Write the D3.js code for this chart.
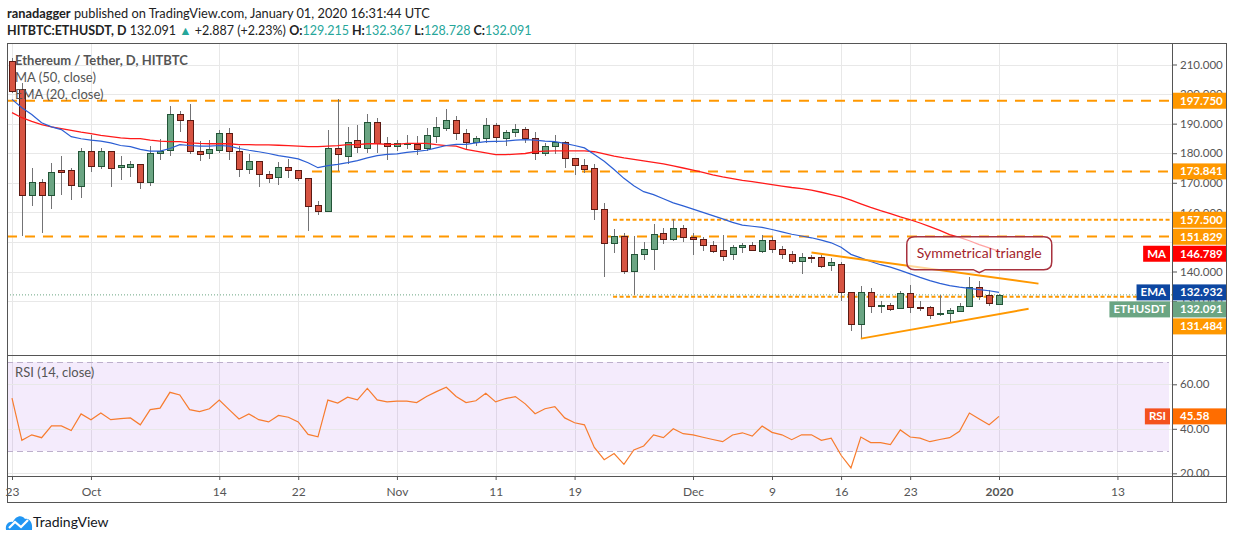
<!DOCTYPE html>
<html>
<head>
<meta charset="utf-8">
<script src="https://cdn.jsdelivr.net/npm/d3@7"></script>
<style>
  body { margin: 0; background: #fff; }
  svg { display: block; font-family: Lato, 'Noto Sans', sans-serif; }
</style>
</head>
<body>
<svg id="chart" width="1234" height="540"></svg>
<script>
// daily candles, 2019-09-23 .. 2020-01-01
const firstDay = '2019-09-23'
const opens = [211.1, 201.7, 166.0, 170.3, 166.0, 174.2, 174.2, 169.2, 180.9, 175.9,
  180.9, 175.1, 175.6, 176.4, 170.3, 180.1, 180.9, 193.1, 191.4, 180.9,
  179.8, 181.3, 186.9, 180.9, 174.7, 177.5, 173.1, 172.0, 175.4, 174.3,
  171.7, 162.4, 160.4, 181.8, 179.3, 184.3, 181.8, 190.6, 183.5, 182.4,
  183.2, 183.2, 181.7, 185.8, 188.6, 191.4, 186.9, 183.7, 184.9, 189.4,
  185.2, 187.2, 188.3, 185.2, 180.1, 182.4, 183.9, 178.5, 176.0, 175.1,
  161.2, 149.7, 151.9, 140.1, 146.0, 147.7, 153.1, 151.1, 154.8, 151.7,
  151.1, 149.1, 147.4, 146.0, 148.2, 148.8, 147.2, 150.8, 147.7, 146.0,
  143.5, 145.0, 145.0, 142.1, 142.6, 133.1, 122.3, 133.1, 128.5, 128.6,
  127.4, 132.8, 128.1, 128.1, 125.5, 126.0, 126.8, 128.5, 134.8, 131.9,
  129.215]
const highs = [212.3, 203.8, 175.1, 171.4, 176.8, 179.2, 175.1, 181.8, 186.3, 181.8,
  180.9, 179.2, 177.3, 176.4, 182.6, 184.9, 195.9, 194.4, 196.8, 184.2,
  184.6, 187.8, 188.4, 182.4, 179.8, 177.5, 173.9, 177.1, 178.1, 174.3,
  171.7, 164.0, 188.0, 198.2, 188.9, 189.7, 193.1, 192.0, 185.6, 184.6,
  186.0, 185.8, 188.6, 192.3, 194.8, 192.5, 188.3, 185.9, 192.0, 190.3,
  187.8, 190.0, 188.9, 187.1, 183.5, 186.3, 184.1, 178.5, 177.9, 176.2,
  163.0, 154.4, 152.9, 151.9, 150.0, 155.9, 154.8, 157.9, 155.6, 152.9,
  151.7, 150.2, 152.2, 149.1, 149.5, 149.9, 152.2, 151.7, 148.6, 146.9,
  146.1, 145.7, 145.7, 144.6, 143.1, 133.1, 135.0, 134.3, 130.0, 129.2,
  133.3, 135.6, 130.0, 128.4, 132.2, 127.7, 129.4, 138.2, 136.7, 133.9,
  132.367]
const lows = [200.4, 152.0, 162.1, 153.1, 161.2, 166.0, 164.3, 164.9, 173.6, 174.5,
  168.6, 170.9, 172.0, 168.0, 168.8, 177.6, 179.2, 187.1, 179.6, 177.3,
  178.0, 180.1, 177.6, 171.9, 173.1, 168.6, 170.0, 169.1, 171.7, 170.5,
  153.6, 159.0, 160.2, 173.9, 176.2, 180.1, 180.1, 180.1, 177.6, 180.7,
  181.5, 179.3, 180.7, 183.5, 187.5, 184.6, 181.3, 182.3, 183.5, 183.5,
  182.4, 185.6, 183.3, 177.6, 179.2, 179.9, 175.1, 172.8, 173.4, 157.3,
  138.2, 146.3, 139.0, 132.2, 143.8, 140.4, 149.4, 150.2, 149.9, 145.7,
  146.9, 146.1, 143.5, 143.8, 146.3, 146.9, 146.1, 146.4, 144.1, 142.4,
  139.3, 142.9, 141.2, 140.1, 130.0, 119.8, 117.6, 126.0, 126.0, 126.6,
  127.2, 125.8, 126.6, 123.8, 125.1, 122.9, 126.2, 128.1, 130.3, 128.3,
  128.728]
const closes = [201.0, 166.0, 170.3, 166.0, 173.7, 173.6, 169.2, 180.9, 175.9, 180.9,
  175.1, 175.9, 176.5, 170.3, 180.1, 180.9, 193.1, 191.2, 180.9, 179.8,
  181.3, 186.9, 180.9, 174.7, 177.5, 173.0, 171.9, 175.4, 174.3, 171.7,
  162.4, 160.4, 181.8, 179.8, 183.9, 181.8, 190.6, 183.5, 182.4, 183.3,
  183.3, 181.5, 186.0, 188.9, 191.4, 186.9, 183.7, 185.2, 189.4, 185.2,
  187.2, 188.3, 185.2, 180.1, 182.4, 183.9, 178.5, 176.0, 174.5, 161.2,
  149.7, 151.9, 140.1, 146.0, 147.7, 152.7, 151.1, 154.8, 151.7, 151.1,
  149.1, 147.2, 145.5, 148.4, 148.8, 147.2, 150.8, 147.7, 146.0, 143.5,
  145.0, 144.8, 142.1, 143.1, 133.3, 122.3, 133.1, 128.5, 128.6, 127.4,
  132.6, 128.1, 128.0, 125.5, 126.0, 126.9, 128.5, 134.8, 131.9, 129.204,
  132.091]

const ma50 = [193.7, 192.0, 190.8, 189.7, 188.9, 188.3, 187.7, 187.1, 186.6, 186.0,
  185.6, 185.2, 184.9, 184.9, 184.4, 184.1, 183.9, 183.9, 183.5, 183.3,
  183.2, 183.2, 183.2, 182.9, 182.9, 182.8, 182.8, 182.7, 182.6, 182.4,
  182.2, 182.2, 182.4, 182.6, 182.9, 182.9, 183.2, 183.2, 183.0, 183.0,
  183.3, 183.3, 183.3, 182.9, 182.6, 182.4, 181.3, 180.7, 180.1, 179.5,
  179.5, 179.7, 179.9, 180.5, 180.7, 180.8, 180.8, 180.8, 180.8, 180.5,
  179.8, 179.0, 178.4, 177.9, 177.4, 176.9, 176.4, 175.7, 175.0, 174.3,
  173.5, 172.7, 172.0, 171.4, 170.8, 170.4, 169.9, 169.4, 168.9, 168.4,
  168.0, 167.5, 166.8, 166.0, 165.2, 164.1, 162.9, 161.7, 160.6, 159.6,
  158.5, 157.5, 156.4, 155.2, 153.9, 152.5, 151.5, 150.4, 149.1, 148.0,
  146.789]
const ema20 = [198.2, 195.4, 193.1, 190.3, 188.9, 188.0, 185.6, 184.9, 184.4, 184.1,
  183.5, 182.6, 182.2, 181.3, 180.7, 180.7, 181.6, 182.9, 182.6, 182.4,
  182.4, 182.6, 182.4, 181.6, 181.0, 180.5, 179.9, 179.2, 178.7, 178.1,
  176.8, 175.1, 175.8, 176.2, 176.8, 177.5, 178.4, 179.2, 179.6, 179.8,
  180.3, 180.6, 181.0, 181.8, 182.6, 183.0, 183.0, 183.5, 183.9, 184.0,
  184.1, 184.4, 184.6, 184.4, 184.1, 183.9, 183.3, 182.6, 181.8, 179.6,
  177.3, 174.5, 171.5, 169.0, 167.0, 166.0, 164.6, 163.2, 162.2, 161.1,
  160.0, 158.9, 157.8, 156.6, 155.7, 155.3, 154.9, 154.2, 153.4, 152.6,
  152.0, 151.4, 150.6, 149.7, 148.2, 145.8, 144.6, 143.4, 142.3, 141.5,
  140.4, 139.2, 138.0, 136.9, 136.0, 135.2, 134.7, 134.3, 133.9, 133.5,
  132.932]
const rsi14 = [53.8, 34.8, 37.3, 36.0, 41.3, 41.3, 39.2, 46.7, 44.1, 47.1,
  44.1, 44.6, 44.9, 41.8, 48.6, 49.3, 56.4, 55.2, 48.6, 47.7,
  49.0, 52.9, 48.6, 44.4, 46.7, 44.1, 43.1, 46.0, 45.2, 43.1,
  37.5, 36.4, 52.9, 51.6, 54.2, 53.0, 58.2, 53.0, 52.1, 52.4,
  52.4, 51.8, 54.5, 56.7, 58.7, 54.5, 51.8, 52.6, 56.0, 52.1,
  53.6, 54.5, 51.2, 46.8, 49.0, 50.0, 44.9, 42.7, 41.8, 31.6,
  26.1, 28.9, 24.0, 30.5, 32.3, 37.3, 36.0, 40.0, 37.8, 37.3,
  36.2, 35.2, 34.2, 37.2, 38.2, 36.7, 41.2, 38.4, 37.3, 35.1,
  37.3, 37.3, 34.8, 35.8, 28.1, 22.4, 36.3, 33.8, 33.8, 32.9,
  39.5, 36.3, 35.8, 34.2, 35.2, 36.0, 38.9, 47.1, 44.4, 41.8,
  45.58]

// drawn levels and the triangle
const dashedLevels = [197.75, 173.841, 151.829]
const dashedStarts = ['2019-09-23', '2019-10-24', '2019-09-23']
const dottedLevels = [157.5, 131.484]
const dottedStart = '2019-11-23'
const triangleUpper = [['2019-12-13', 146.4], ['2020-01-05', 135.9]]
const triangleLower = [['2019-12-18', 117.3], ['2020-01-04', 127.4]]
const calloutText = 'Symmetrical triangle'
const calloutAnchor = ['2019-12-30', 139.6]

// axes
const timeTicks = ['2019-09-23', '2019-10-01', '2019-10-14', '2019-10-22', '2019-11-01', '2019-11-11',
  '2019-11-19', '2019-12-01', '2019-12-09', '2019-12-16', '2019-12-23', '2020-01-01', '2020-01-13']
const timeTickLabels = ['23', 'Oct', '14', '22', 'Nov', '11', '19', 'Dec', '9', '16', '23', '2020', '13']
const priceTicks = [130, 140, 150, 160, 170, 180, 190, 200, 210]
const rsiTicks = [20, 40, 60]

const parseDay = d3.utcParse('%Y-%m-%d')
const start = parseDay(firstDay)
const days = d3.range(closes.length).map(i => d3.utcDay.offset(start, i))

const L = 7
const R = 1227
const AX = 1172
const TOP = 43
const SPLIT = 355
const TAXIS = 476
const BOTTOM = 503

const GREEN = '#6ba583'
const RED = '#d75442'
const ORANGE = '#ff9800'
const GRID = '#e8e8e8'
const TEXT = '#555'

const x = d3.scaleUtc()
  .domain([start, parseDay('2020-01-01')])
  .range([12, 999])
const y = d3.scaleLinear().domain([140, 210]).range([271.5, 64.5])
const yr = d3.scaleLinear().domain([20, 60]).range([473.3, 384.3])

const svg = d3.select('#chart')
const defs = svg.append('defs')
defs.append('clipPath').attr('id', 'pricePane')
  .append('rect').attr('x', L).attr('y', TOP).attr('width', AX - L).attr('height', SPLIT - TOP)
defs.append('clipPath').attr('id', 'rsiPane')
  .append('rect').attr('x', L).attr('y', SPLIT).attr('width', R - L).attr('height', TAXIS - SPLIT)

// header
const header = svg.append('g').attr('fill', '#222')
const line1 = header.append('text').attr('x', 7).attr('y', 18).style('font-size', '12.8px')
line1.append('tspan').attr('font-weight', 700).text('ranadagger')
line1.append('tspan').text(' published on TradingView.com, January 01, 2020 16:31:44 UTC')

const last = closes.length - 1
const change = closes[last] - closes[last - 1]
const f3 = d3.format('.3f')
const teal = '#26a69a'
const line2 = header.append('text').attr('x', 7).attr('y', 35).style('font-size', '12.5px')
line2.append('tspan').attr('font-weight', 700).text('HITBTC:ETHUSDT, D')
line2.append('tspan').text(` ${f3(closes[last])} `)
line2.append('tspan').attr('fill', teal).text('▲')
line2.append('tspan').text(` +${f3(change)} (+${d3.format('.2f')(change / closes[last - 1] * 100)}%) `)
;[['O:', opens[last]], ['H:', highs[last]], ['L:', lows[last]], ['C:', closes[last]]].forEach(([k, v], i) => {
  line2.append('tspan').attr('font-weight', 700).text(`${i ? ' ' : ''}${k}`)
  line2.append('tspan').attr('fill', teal).text(f3(v))
})

// grid
const grid = svg.append('g').attr('stroke', GRID).attr('shape-rendering', 'crispEdges')
grid.selectAll('line.v')
  .data(timeTicks.map(parseDay))
  .join('line')
  .attr('x1', d => Math.round(x(d)) + 0.5).attr('x2', d => Math.round(x(d)) + 0.5)
  .attr('y1', TOP).attr('y2', TAXIS)
grid.selectAll('line.p')
  .data(priceTicks)
  .join('line')
  .attr('x1', L).attr('x2', AX)
  .attr('y1', d => Math.round(y(d)) + 0.5).attr('y2', d => Math.round(y(d)) + 0.5)

// RSI pane background
const rsiG = svg.append('g').attr('clip-path', 'url(#rsiPane)')
rsiG.append('rect')
  .attr('x', L).attr('width', AX - 3 - L)
  .attr('y', yr(70)).attr('height', yr(30) - yr(70))
  .attr('fill', 'rgba(150, 60, 230, 0.1)')
rsiG.selectAll('line.g')
  .data(rsiTicks)
  .join('line')
  .attr('x1', L).attr('x2', AX)
  .attr('y1', d => Math.round(yr(d)) + 0.5).attr('y2', d => Math.round(yr(d)) + 0.5)
  .attr('stroke', GRID)
rsiG.selectAll('line.b')
  .data([70, 30])
  .join('line')
  .attr('x1', L).attr('x2', AX - 3)
  .attr('y1', d => Math.round(yr(d)) + 0.5).attr('y2', d => Math.round(yr(d)) + 0.5)
  .attr('stroke', '#bdb0cc').attr('stroke-dasharray', '6,4')
rsiG.append('path')
  .datum(rsi14)
  .attr('fill', 'none')
  .attr('stroke', '#f77c2e')
  .attr('stroke-width', 1.2)
  .attr('d', d3.line().x((d, i) => x(days[i])).y(d => yr(d)))
svg.append('text').attr('x', 15).attr('y', 377)
  .attr('fill', TEXT).style('font-size', '13px')
  .text('RSI (14, close)')

// price pane
const pane = svg.append('g').attr('clip-path', 'url(#pricePane)')

pane.selectAll('line.dashed')
  .data(dashedLevels)
  .join('line')
  .attr('x1', (d, i) => Math.max(L, x(parseDay(dashedStarts[i])) - 6)).attr('x2', AX)
  .attr('y1', d => y(d)).attr('y2', d => y(d))
  .attr('stroke', ORANGE).attr('stroke-width', 2).attr('stroke-dasharray', '10,8')
pane.selectAll('line.dotted')
  .data(dottedLevels)
  .join('line')
  .attr('x1', x(parseDay(dottedStart)) - 1).attr('x2', AX)
  .attr('y1', d => y(d)).attr('y2', d => y(d))
  .attr('stroke', ORANGE).attr('stroke-width', 2).attr('stroke-dasharray', '4,2.5')
pane.append('line')
  .attr('x1', L).attr('x2', AX)
  .attr('y1', y(closes[last])).attr('y2', y(closes[last]))
  .attr('stroke', GREEN).attr('stroke-dasharray', '1,2')

const candles = days.map((d, i) => ({ d, o: opens[i], h: highs[i], l: lows[i], c: closes[i] }))
const cg = pane.selectAll('g.candle')
  .data(candles)
  .join('g')
  .attr('shape-rendering', 'crispEdges')
cg.append('line')
  .attr('x1', d => Math.round(x(d.d)) + 0.5).attr('x2', d => Math.round(x(d.d)) + 0.5)
  .attr('y1', d => y(d.h)).attr('y2', d => y(d.l))
  .attr('stroke', '#737375')
cg.append('rect')
  .attr('x', d => Math.round(x(d.d)) - 2.5)
  .attr('width', 6)
  .attr('y', d => Math.round(y(Math.max(d.o, d.c))) + 0.5)
  .attr('height', d => Math.max(1, Math.round(Math.abs(y(d.o) - y(d.c)))))
  .attr('fill', d => d.c >= d.o ? GREEN : RED)
  .attr('stroke', d => d.c >= d.o ? '#225437' : '#5b1a13')

const lineOf = scale => d3.line().x((d, i) => x(days[i])).y(d => scale(d))
pane.append('path').datum(ma50)
  .attr('fill', 'none').attr('stroke', '#ff1a1a').attr('stroke-width', 1.3)
  .attr('d', lineOf(y))
pane.append('path').datum(ema20)
  .attr('fill', 'none').attr('stroke', '#2c5fd4').attr('stroke-width', 1.2)
  .attr('d', lineOf(y))

pane.selectAll('line.tri')
  .data([triangleUpper, triangleLower])
  .join('line')
  .attr('x1', d => x(parseDay(d[0][0]))).attr('y1', d => y(d[0][1]))
  .attr('x2', d => x(parseDay(d[1][0]))).attr('y2', d => y(d[1][1]))
  .attr('stroke', ORANGE).attr('stroke-width', 2)

// callout
const ax = x(parseDay(calloutAnchor[0]))
const ay = y(calloutAnchor[1])
const bw = 145
const bh = 33
const bx = ax - bw / 2
const by = ay - 3 - bh
const r = 8
pane.append('path')
  .attr('d', `M${bx + r},${by} H${bx + bw - r} Q${bx + bw},${by} ${bx + bw},${by + r}` +
    ` V${by + bh - r} Q${bx + bw},${by + bh} ${bx + bw - r},${by + bh}` +
    ` H${ax + 6} L${ax},${ay} L${ax - 6},${by + bh} H${bx + r}` +
    ` Q${bx},${by + bh} ${bx},${by + bh - r} V${by + r} Q${bx},${by} ${bx + r},${by} Z`)
  .attr('fill', 'rgba(255, 255, 255, 0.6)')
  .attr('stroke', '#a8323e').attr('stroke-width', 1.5)
pane.append('text')
  .attr('x', ax).attr('y', by + bh / 2 + 5)
  .attr('text-anchor', 'middle')
  .attr('fill', '#a31f2c').style('font-size', '14px')
  .text(calloutText)

const legend = svg.append('g').attr('fill', TEXT).style('font-size', '13px')
legend.append('text').attr('x', 15).attr('y', 65).attr('font-weight', 700).text('Ethereum / Tether, D, HITBTC')
legend.append('text').attr('x', 15).attr('y', 82).text('MA (50, close)')
legend.append('text').attr('x', 15).attr('y', 99).text('EMA (20, close)')

// axis markers, pushed apart like the platform does
const marks = [
  { v: dashedLevels[0], fill: ORANGE },
  { v: dashedLevels[1], fill: ORANGE },
  { v: dottedLevels[0], fill: ORANGE },
  { v: dashedLevels[2], fill: ORANGE },
  { v: ma50[last], fill: '#ff0000', name: 'MA' },
  { v: ema20[last], fill: '#0d47a1', name: 'EMA' },
  { v: closes[last], fill: GREEN, name: 'ETHUSDT' },
  { v: dottedLevels[1], fill: ORANGE }
].sort((a, b) => b.v - a.v)
let prev = -Infinity
marks.forEach(m => {
  m.y = Math.max(y(m.v), prev + 17)
  prev = m.y
})

// right axes (labels fully under a marker are left out)
const hidden = v => marks.some(m => Math.abs(m.y - y(v)) < 6)
const priceAxis = svg.append('g')
  .attr('transform', `translate(${AX},0)`)
  .call(d3.axisRight(y).tickValues(priceTicks.filter(v => !hidden(v))).tickFormat(f3).tickSize(5).tickPadding(3))
const rsiAxis = svg.append('g')
  .attr('clip-path', 'url(#rsiPane)')
  .append('g')
  .attr('transform', `translate(${AX},0)`)
  .call(d3.axisRight(yr).tickValues(rsiTicks).tickFormat(d3.format('.2f')).tickSize(5).tickPadding(3))
;[priceAxis, rsiAxis].forEach(g => {
  g.select('.domain').remove()
  g.selectAll('line').attr('stroke', TEXT)
  g.selectAll('text').attr('fill', TEXT).style('font-size', '11.5px').style('font-family', 'Lato, sans-serif')
})

const timeAxis = svg.append('g')
  .attr('transform', `translate(0,${TAXIS})`)
  .call(d3.axisBottom(x).tickValues(timeTicks.map(parseDay)).tickSize(4).tickPadding(7)
    .tickFormat((d, i) => timeTickLabels[i]))
timeAxis.select('.domain').remove()
timeAxis.selectAll('line').attr('stroke', TEXT)
timeAxis.selectAll('text').attr('fill', TEXT).style('font-size', '12px').style('font-family', 'Lato, sans-serif')
  .attr('font-weight', (d, i) => timeTickLabels[i] === '2020' ? 700 : 400)

function marker (cy, value, fill, name, nameFill) {
  const g = svg.append('g').style('font-size', '11.5px').attr('font-weight', 700)
  g.append('rect').attr('x', AX).attr('y', cy - 8).attr('width', R - AX).attr('height', 16).attr('fill', fill)
  g.append('text').attr('x', AX + 8).attr('y', cy + 4).attr('fill', '#fff').text(value)
  if (name) {
    const t = g.append('text').attr('y', cy + 4).attr('fill', '#fff').attr('text-anchor', 'end').text(name)
    const w = t.node().getComputedTextLength() + 8
    g.insert('rect', 'text:last-child')
      .attr('x', AX - 2 - w).attr('y', cy - 8).attr('width', w).attr('height', 16).attr('fill', nameFill || fill)
    t.attr('x', AX - 6)
  }
}
marks.forEach(m => marker(m.y, f3(m.v), m.fill, m.name))
marker(yr(rsi14[last]), d3.format('.2f')(rsi14[last]), '#ff6d00', 'RSI', '#f4511e')

// frame
const frame = svg.append('g').attr('stroke', '#555').attr('fill', 'none').attr('shape-rendering', 'crispEdges')
frame.append('rect').attr('x', L + 0.5).attr('y', TOP + 0.5).attr('width', R - L - 1).attr('height', BOTTOM - TOP - 1)
frame.append('line').attr('x1', AX + 0.5).attr('x2', AX + 0.5).attr('y1', TOP).attr('y2', BOTTOM)
frame.append('line').attr('x1', L).attr('x2', R).attr('y1', SPLIT + 0.5).attr('y2', SPLIT + 0.5)
frame.append('line').attr('x1', L).attr('x2', R).attr('y1', TAXIS + 0.5).attr('y2', TAXIS + 0.5)

// TradingView logo
const logo = svg.append('g').attr('transform', 'translate(6,513)')
logo.append('path')
  .attr('d', 'M0,17 C-1,11 3,8 7,9 C9,3 16,1 19,6 C23,5 27,9 26,17 Z')
  .attr('fill', '#2196f3')
logo.append('path')
  .attr('d', 'M3,15 L9,9 L15,14 L22,7')
  .attr('fill', 'none').attr('stroke', '#fff').attr('stroke-width', 2.2)
svg.append('text').attr('x', 33).attr('y', 527)
  .attr('fill', '#131722').style('font-size', '14px')
  .text('TradingView')
</script>
</body>
</html>
